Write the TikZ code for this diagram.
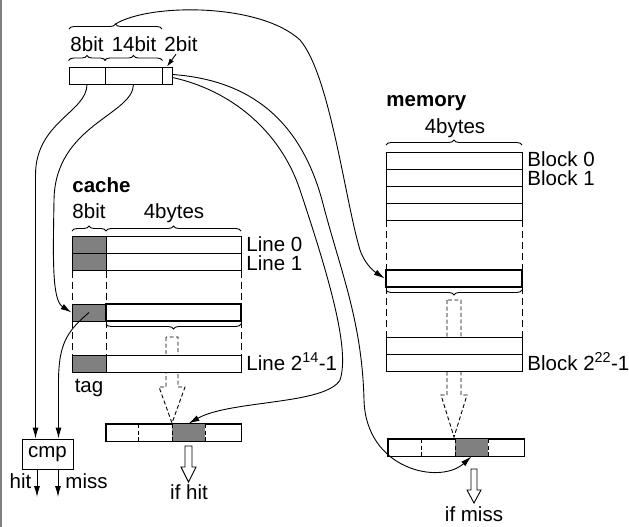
\documentclass[tikz,border=0pt]{standalone}
\usepackage{fontspec}
\setmainfont{Liberation Sans}
\usetikzlibrary{calc,decorations.pathreplacing,arrows.meta}

\begin{document}
\begin{tikzpicture}[x=1pt,y=-1pt,line width=0.9pt,
    font=\fontsize{20.5}{24}\selectfont,
    txt/.style={inner sep=0pt,anchor=base},
    cell/.style={draw,inner sep=0pt,minimum height=17pt},
    tagcell/.style={cell,fill=black!50,minimum width=34pt},
    datacell/.style={cell,fill=white,minimum width=135pt},
    memcell/.style={cell,fill=white,minimum width=136pt},
    brc/.style={decorate,decoration={brace,amplitude=5pt}},
    guide/.style={dash pattern=on 7pt off 4pt},
    sep/.style={dash pattern=on 4pt off 2.5pt},
    ptr/.style={-{Latex[length=11pt,width=6pt]}},
    hollow/.style={draw,fill=white,line join=miter}]
    \useasboundingbox (0,0) rectangle (629,527);
    \draw[black!50,line width=2pt] (1,0) -- (1,527);

    % address
    \node[cell,minimum width=36pt] (a8) at (87,75.5) {};
    \node[cell,minimum width=57pt] (a14) at (133.5,75.5) {};
    \node[cell,minimum width=10pt] (a2) at (167,75.5) {};
    \node[txt] (l8) at (87,51.5) {8bit};
    \node[txt] (l14) at (134,51.5) {14bit};
    \node[txt] (l2) at (181,51.5) {2bit};
    \draw[brc] ([yshift=6pt]a8.north west) -- ([yshift=6pt]a8.north east);
    \draw[brc] ([yshift=6pt]a14.north west) -- ([yshift=6pt]a14.north east);
    \draw[brc] (69,29) -- (162,29);
    \coordinate (atip) at (115.5,24);
    \draw[-{Latex[length=8pt,width=5pt]}] ([xshift=-5pt,yshift=-2pt]l2.south) -- (a2.north);

    % dashed hollow arrows (behind the rows)
    \draw[sep] (166,337) -- (166,387) -- (159,387) -- (172,423) -- (185,387) -- (178,387) -- (178,337) -- cycle;
    \draw[sep] (447,300) -- (447,395) -- (441,395) -- (454,437) -- (467,395) -- (461,395) -- (461,300) -- cycle;

    % cache
    \node[txt,anchor=base west] (cachelbl) at (72,192) {\bfseries cache};
    \node[txt] (c8) at (89,218) {8bit};
    \node[txt] (c4) at (174,218) {4bytes};
    \draw[brc] (72,231) -- (106,231);
    \draw[brc] (106,231) -- (241,231);
    \foreach \y/\n in {245/0,262/1,364/e} {
        \node[tagcell] (ct\n) at (89,\y) {};
        \node[datacell] (cd\n) at (173.5,\y) {};
    }
    \node[tagcell] (ctag) at (89,312.5) {};
    \node[datacell,line width=2.5pt] (cdh) at (173.5,312.5) {};
    \foreach \x in {72,106,241} {
        \draw[guide] (\x,270.5) -- (\x,304);
        \draw[guide] (\x,321) -- (\x,355.5);
    }
    \draw[brc] (241,324) -- (106,324);
    \node[txt,anchor=base west] (line0) at (246,251) {Line 0};
    \node[txt,anchor=base west] (line1) at (246,270) {Line 1};
    \node[txt,anchor=base west] (linee) at (246,370) {Line 2\textsuperscript{14}-1};
    \node[txt] (taglbl) at (89,392) {tag};

    % cache output
    \node[cell,minimum width=135pt] (cout) at (173.5,432.5) {};
    \node[cell,draw=none,fill=black!50,minimum width=33pt] (chit) at (188.5,432.5) {};
    \draw (cout.north west) rectangle (cout.south east);
    \foreach \x in {138,172,205} \draw[sep] (\x,424) -- (\x,441);
    \draw[hollow] (185,446) -- (185,467) -- (181,467) -- (188.5,482) -- (196,467) -- (192,467) -- (192,446) -- cycle;
    \node[txt] (hitout) at (189,499) {if hit};

    % memory
    \node[txt,anchor=base west] (memlbl) at (386,106) {\bfseries memory};
    \node[txt] (m4) at (455,133) {4bytes};
    \draw[brc] (386,145) -- (522,145);
    \foreach \y [count=\i] in {160.5,177.5,194.5,211.5}
        \node[memcell] (mb\i) at (454,\y) {};
    \node[memcell,line width=2.5pt] (mhl) at (454,278.5) {};
    \node[memcell] (mz1) at (454,346) {};
    \node[memcell] (mz2) at (454,363) {};
    \foreach \x in {386,522} {
        \draw[guide] (\x,220) -- (\x,270);
        \draw[guide] (\x,287) -- (\x,337.5);
    }
    \draw[brc] (522,290) -- (386,290);
    \node[txt,anchor=base west] (blk0) at (527,166) {Block 0};
    \node[txt,anchor=base west] (blk1) at (527,185) {Block 1};
    \node[txt,anchor=base west] (blke) at (527,370) {Block 2\textsuperscript{22}-1};

    % memory output
    \node[cell,minimum width=136pt] (mout) at (456,447.5) {};
    \node[cell,draw=none,fill=black!50,minimum width=33pt] (mmiss) at (471.5,447.5) {};
    \draw (mout.north west) rectangle (mout.south east);
    \foreach \x in {421,455,488} \draw[sep] (\x,439) -- (\x,456);
    \draw[hollow] (471,469) -- (471,490) -- (467,490) -- (474,503) -- (481,490) -- (477,490) -- (477,469) -- cycle;
    \node[txt] (missout) at (474,521) {if miss};

    % compare
    \node[draw,minimum width=51pt,minimum height=30pt,inner sep=0pt] (cmp) at (47.5,454) {cmp};
    \coordinate (cinL) at ([xshift=-12pt]cmp.north);
    \coordinate (cinR) at ([xshift=11pt]cmp.north);
    \coordinate (hitend) at (37,497);
    \coordinate (missend) at (58,497);
    \draw[ptr] (cmp.south -| hitend) -- (hitend);
    \draw[ptr] (cmp.south -| missend) -- (missend);
    \node[txt] (hitlbl) at (20.5,488) {hit};
    \node[txt] (misslbl) at (86.5,488) {miss};

    % wires
    \draw[ptr] (a8.south) .. controls (87,112) and (35.5,122) .. (35.5,175) -- (cinL);
    \draw[ptr] (a14.south) .. controls (133,115) and (55,125) .. (54,200) .. controls (53,260) and (52,300) .. (ctag.west);
    \draw[ptr] (ctag.center) .. controls (66,332) and (59,345) .. (58.5,380) -- (cinR);
    \draw[ptr] (atip) .. controls (150,3) and (260,3) .. (300,40) .. controls (330,75) and (345,200) .. (360,250) .. controls (364,262) and (372,270) .. (mhl.west);
    \draw[ptr] ([yshift=-2pt]a2.east) .. controls (230,90) and (280,130) .. (300,190) .. controls (330,280) and (350,350) .. (340,380) .. controls (325,405) and (230,400) .. (chit.north);
    \draw[ptr] ([yshift=1pt]a2.east) .. controls (250,80) and (300,120) .. (322,200) .. controls (340,270) and (362,320) .. (364,400) .. controls (366,470) and (440,485) .. (mmiss.south);
\end{tikzpicture}
\end{document}
